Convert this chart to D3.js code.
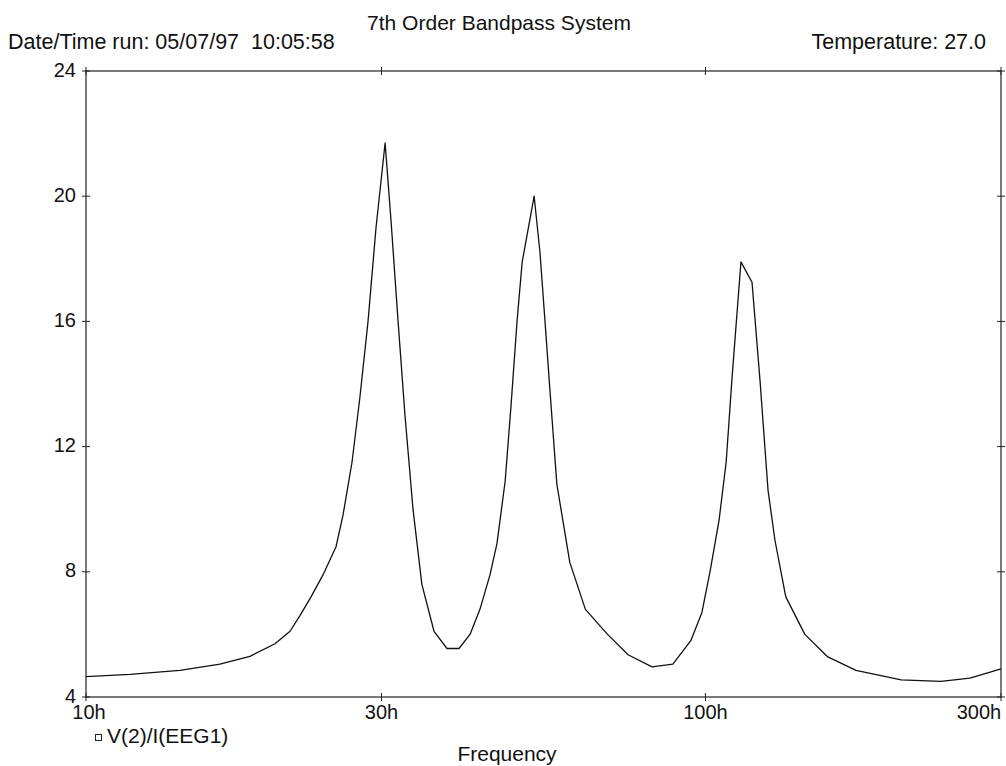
<!DOCTYPE html>
<html>
<head>
<meta charset="utf-8">
<script src="https://cdn.jsdelivr.net/npm/d3@7"></script>
<style>
  body { margin: 0; background: #fff; }
  text { font-family: "Liberation Sans", Arial, sans-serif; fill: #111; }
</style>
</head>
<body>
<svg id="chart" width="1006" height="766"></svg>
<script>
// frequency points (Hz) and the response at each
var freqs = [10, 11.78, 14.18, 16.45, 18.39, 20.19, 21.35, 22.15, 23.08, 24.13,
  25.33, 25.99, 26.88, 27.69, 28.53, 29.39, 30.4, 31.08, 31.9, 32.73,
  33.72, 34.85, 36.46, 38.26, 40.01, 41.68, 43.25, 44.89, 46.07, 47.5,
  48.54, 49.64, 50.6, 52.9, 54.06, 55.08, 56.1, 57.56, 60.4, 64.0,
  69.5, 75.0, 82.0, 88.6, 94.7, 98.7, 101.7, 105.2, 108.0, 110.3,
  114.1, 118.9, 122.5, 126.2, 129.5, 134.8, 144.7, 157.6, 175.0, 207.0,
  240.0, 267.3, 300]
var values = [4.65, 4.72, 4.85, 5.05, 5.3, 5.7, 6.1, 6.6, 7.2, 7.9,
  8.8, 9.8, 11.5, 13.6, 16.0, 19.0, 21.7, 19.2, 16.0, 13.0,
  10.0, 7.6, 6.1, 5.55, 5.55, 6.0, 6.8, 7.9, 8.9, 10.9,
  13.3, 16.0, 17.9, 20.0, 18.2, 16.0, 13.8, 10.8, 8.3, 6.8,
  6.0, 5.35, 4.96, 5.05, 5.8, 6.7, 8.0, 9.65, 11.5, 14.1,
  17.9, 17.25, 14.1, 10.6, 9.0, 7.2, 6.0, 5.28, 4.85, 4.55,
  4.5, 4.6, 4.9]

var xTicks = [10, 30, 100, 300]
var xTickLabels = ['10h', '30h', '100h', '300h']
var yTicks = [4, 8, 12, 16, 20, 24]

var plotLeft = 86, plotRight = 1001, plotTop = 71, plotBottom = 697

var svg = d3.select('#chart')

var x = d3.scaleLog().domain([10, 300]).range([plotLeft, plotRight])
var y = d3.scaleLinear().domain([4, 24]).range([plotBottom, plotTop])

// frame
svg.append('rect')
    .attr('x', plotLeft).attr('y', plotTop)
    .attr('width', plotRight - plotLeft).attr('height', plotBottom - plotTop)
    .attr('fill', 'none').attr('stroke', '#222').attr('stroke-width', 1.2)

// tick marks crossing the frame on every side
yTicks.forEach(function(t) {
    [plotLeft, plotRight].forEach(function(px) {
        svg.append('line')
            .attr('x1', px - 4).attr('x2', px + 4)
            .attr('y1', y(t)).attr('y2', y(t))
            .attr('stroke', '#222')
    })
})
xTicks.forEach(function(t) {
    [plotTop, plotBottom].forEach(function(py) {
        svg.append('line')
            .attr('x1', x(t)).attr('x2', x(t))
            .attr('y1', py - 4).attr('y2', py + 4)
            .attr('stroke', '#222')
    })
})

// y labels
svg.selectAll('.ylab')
    .data(yTicks)
    .enter()
    .append('text')
    .attr('x', 76)
    .attr('y', function(d) { return y(d) })
    .attr('dy', '0.28em')
    .attr('text-anchor', 'end')
    .style('font-size', '20px')
    .text(function(d) { return d })

// x labels, the end ones kept inside the frame
svg.selectAll('.xlab')
    .data(xTicks)
    .enter()
    .append('text')
    .attr('x', function(d, i) { return i === 0 ? x(d) + 3 : (i === xTicks.length - 1 ? x(d) - 22 : x(d)) })
    .attr('y', 719)
    .attr('text-anchor', 'middle')
    .style('font-size', '20px')
    .text(function(d, i) { return xTickLabels[i] })

// the curve
var line = d3.line()
    .x(function(d) { return x(d[0]) })
    .y(function(d) { return y(d[1]) })

svg.append('path')
    .datum(d3.zip(freqs, values))
    .attr('d', line)
    .attr('fill', 'none')
    .attr('stroke', '#111')
    .attr('stroke-width', 1.3)
    .attr('stroke-linejoin', 'round')

// header texts
svg.append('text')
    .attr('x', 499).attr('y', 30)
    .attr('text-anchor', 'middle')
    .style('font-size', '21px')
    .text('7th Order Bandpass System')

svg.append('text')
    .attr('x', 8).attr('y', 49)
    .style('font-size', '21.5px')
    .text('Date/Time run: 05/07/97\u00a0\u00a010:05:58')

svg.append('text')
    .attr('x', 986).attr('y', 49)
    .attr('text-anchor', 'end')
    .style('font-size', '21.5px')
    .text('Temperature: 27.0')

// legend
svg.append('rect')
    .attr('x', 95.5).attr('y', 734.5)
    .attr('width', 6).attr('height', 6)
    .attr('fill', 'none').attr('stroke', '#222')

svg.append('text')
    .attr('x', 107).attr('y', 743)
    .style('font-size', '21px')
    .text('V(2)/I(EEG1)')

svg.append('text')
    .attr('x', 507).attr('y', 761)
    .attr('text-anchor', 'middle')
    .style('font-size', '21px')
    .text('Frequency')
</script>
</body>
</html>
